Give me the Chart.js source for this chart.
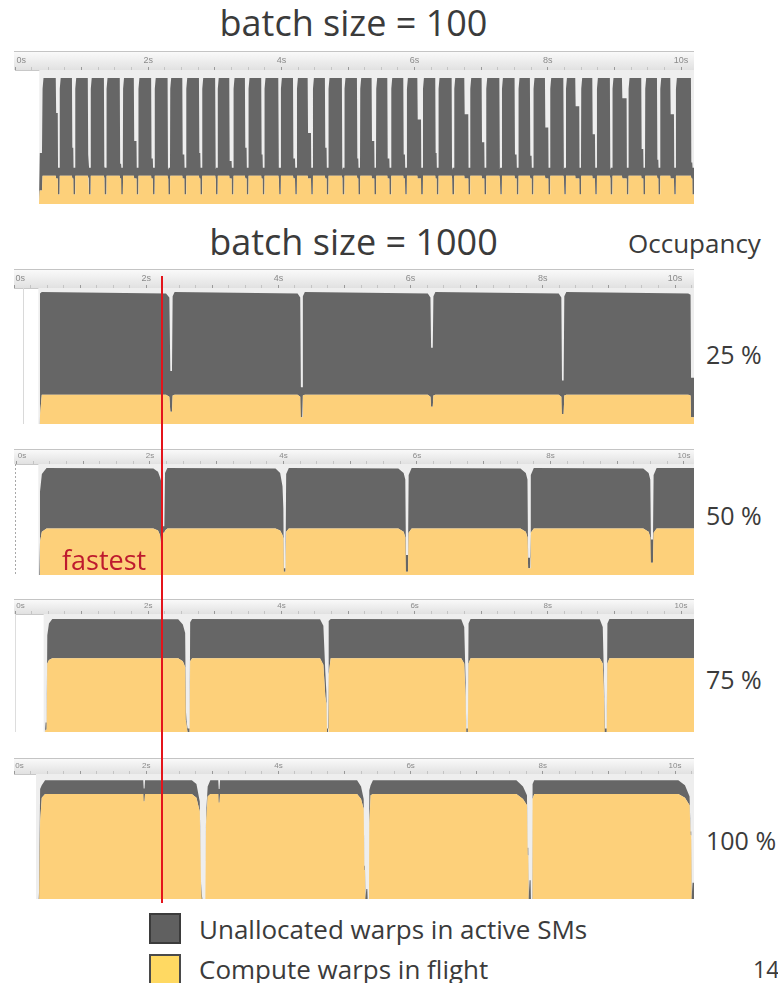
<!DOCTYPE html>
<html lang="en">
<head>
<meta charset="utf-8">
<title>Warp occupancy timelines</title>
<script src="https://cdn.jsdelivr.net/npm/chart.js@4.4.1/dist/chart.umd.min.js"></script>
<style>
  html, body { margin: 0; padding: 0; background: #ffffff; }
  body { position: relative; width: 778px; height: 983px; overflow: hidden;
         font-family: "Open Sans", "Liberation Sans", sans-serif; color: #3b3b3b; }
  .txt { position: absolute; white-space: nowrap; line-height: 1; }
  .title { left: 0; width: 707px; text-align: center; font-size: 36px; }
  .occ { left: 706px; font-size: 25px; }
  canvas { position: absolute; left: 14px; }
  .marker { position: absolute; left: 161px; top: 276px; width: 2px; height: 627px; background: #e4141b; z-index: 5; }
  .fastest { left: 62px; top: 546px; font-size: 27px; color: #be1a2e; z-index: 6; }
  .key { position: absolute; left: 149px; width: 32px; height: 31px; box-sizing: border-box; border: 2px solid #3b3b3b; }
  .keytxt { left: 199px; font-size: 26px; }
</style>
</head>
<body>
<div class="txt title" style="top:5px">batch size = 100</div>
<div class="txt title" style="top:224px">batch size = 1000</div>
<div class="txt" style="left:628px;top:230px;font-size:26px">Occupancy</div>

<canvas id="tl100" width="680" height="153" style="top:51px"></canvas>
<canvas id="tl25" width="680" height="155" style="top:269px"></canvas>
<canvas id="tl50" width="680" height="126" style="top:449px"></canvas>
<canvas id="tl75" width="680" height="133" style="top:599px"></canvas>
<canvas id="tl100pct" width="680" height="141" style="top:758px"></canvas>

<div class="txt occ" style="top:342px">25 %</div>
<div class="txt occ" style="top:503px">50 %</div>
<div class="txt occ" style="top:667px">75 %</div>
<div class="txt occ" style="top:828px">100 %</div>

<div class="marker"></div>
<div class="txt fastest">fastest</div>

<div class="key" style="top:913px;background:#606060"></div>
<div class="txt keytxt" style="top:916px">Unallocated warps in active SMs</div>
<div class="key" style="top:954px;background:#ffd962;border-color:#4a4a4a"></div>
<div class="txt keytxt" style="top:956px">Compute warps in flight</div>
<div class="txt" style="left:753px;top:958px;font-size:23px">14</div>

<script>
// ---------------------------------------------------------------
// batch size = 100 : one short bar per batch (times in seconds,
// warp values in % of the available warp slots)
// ---------------------------------------------------------------
const b100Bounds = [0.410, 0.668, 0.901, 1.134, 1.371, 1.619, 1.850, 2.095, 2.327, 2.568,
  2.808, 3.041, 3.278, 3.503, 3.743, 3.989, 4.230, 4.470, 4.704, 4.944,
  5.180, 5.420, 5.646, 5.881, 6.122, 6.356, 6.592, 6.832, 7.072, 7.308,
  7.557, 7.782, 8.033, 8.269, 8.498, 8.734, 8.968, 9.209, 9.459, 9.685,
  9.920, 10.195];
// occupied level (%) each batch falls to just before it ends
const b100TailLevel = [68, 42, 37, 28, 30, 47, 34, 26, 37, 38,
  26, 32, 42, 37, 27, 34, 53, 42, 26, 34,
  47, 34, 37, 63, 38, 26, 67, 46, 26, 37,
  36, 57, 26, 73, 52, 26, 79, 41, 33, 67, 31];
// how long (s) that tail lasts
const b100TailLength = [0.05, 0.04, 0.035, 0.03, 0.04, 0.06, 0.045, 0.03, 0.05, 0.04,
  0.03, 0.055, 0.045, 0.04, 0.03, 0.05, 0.07, 0.045, 0.03, 0.04,
  0.06, 0.05, 0.045, 0.075, 0.04, 0.03, 0.08, 0.06, 0.03, 0.05,
  0.045, 0.07, 0.03, 0.08, 0.06, 0.03, 0.09, 0.05, 0.04, 0.075, 0.04];
const b100LeadTime = [0.360, 0.372, 0.405];
const b100LeadCompute = [0, 10, 10];
const b100LeadUnalloc = [0, 28, 28];
const b100Levels = [94, 21, 19, 27, 7]; // occupied, compute, compute in tail, occupied at switch, compute at switch

// ---------------------------------------------------------------
// batch size = 1000, occupancy 25 %
// ---------------------------------------------------------------
const occ25Time = [0.388, 0.393, 0.42, 2.30, 2.35, 2.365, 2.39, 2.40, 2.43, 4.29, 4.33, 4.34, 4.36, 4.37, 4.40,
  6.26, 6.30, 6.31, 6.335, 6.345, 6.375, 8.24, 8.28, 8.29, 8.315, 8.325, 8.355, 10.20, 10.235, 10.242, 10.287];
const occ25Compute = [0, 6, 21.5, 21.5, 20, 9, 9, 21, 21.5, 21.5, 20, 5, 5, 21, 21.5,
  21.5, 20, 12.6, 12.6, 21, 21.5, 21.5, 20, 7.4, 7.4, 21, 21.5, 21.5, 21, 5, 5];
const occ25Unalloc = [0, 90, 75.5, 74.5, 73, 30, 30, 73, 75.5, 74.5, 73, 22, 22, 73, 75.5,
  74.5, 73, 43.4, 43.4, 73, 75.5, 74.5, 73, 24.6, 24.6, 73, 75.5, 74.5, 74, 29, 29];

// occupancy 50 %
const occ50Time = [0.340, 0.352, 0.38, 0.45, 2.05, 2.12, 2.15, 2.165, 2.18, 2.19, 2.215, 2.225, 2.26,
  3.88, 3.95, 3.985, 3.998, 4.005, 4.03, 4.04, 4.08, 5.72, 5.80, 5.825, 5.835, 5.865, 5.875, 5.92,
  7.55, 7.63, 7.655, 7.665, 7.695, 7.705, 7.75, 9.39, 9.47, 9.495, 9.505, 9.535, 9.545, 9.59, 10.15];
const occ50Compute = [0, 30, 39, 41.8, 41.8, 40, 36, 27, 27, 38, 38, 40, 41.8,
  41.8, 40, 36, 33, 3, 3, 39, 41.8, 41.8, 39, 34, 3, 3, 38, 41.8,
  41.8, 39, 34, 6, 6, 38, 41.8, 41.8, 39, 34, 11, 11, 38, 41.8, 41.8];
const occ50Unalloc = [0, 45, 52, 54.6, 54.2, 53, 52, 58, 53, 6, 6, 52, 54.6,
  54.2, 52, 44, 27, 3, 3, 52, 54.6, 54.2, 53, 52, 15, 15, 52, 54.6,
  54.2, 53, 52, 9.5, 9.5, 52, 54.6, 54.2, 53, 52, 21, 21, 52, 54.6, 54.6];

// occupancy 75 %
const occ75Time = [0.45, 0.46, 0.475, 0.485, 0.51, 0.56, 2.45, 2.52, 2.555, 2.565, 2.575, 2.59, 2.622, 2.63, 2.66,
  4.58, 4.63, 4.66, 4.675, 4.685, 4.70, 4.71, 4.74, 6.70, 6.745, 6.765, 6.775, 6.80, 6.81, 6.84,
  8.78, 8.825, 8.845, 8.855, 8.885, 8.895, 8.925, 10.195];
const occ75Compute = [0, 2, 2, 58, 61, 62.4, 62.4, 60, 55, 10, 6, 0, 0, 60, 62.4,
  62.4, 57, 30, 24, 0, 0, 49, 62.4, 62.4, 58, 30, 0, 0, 58, 62.4,
  62.4, 58, 28, 0, 0, 58, 62.4, 62.4];
const occ75Unalloc = [0, 6, 6, 24, 31, 33.3, 33.1, 31, 29, 9, 4, 3, 3, 33, 33.3,
  33.1, 33, 20, 10, 3, 3, 45, 33.3, 33.1, 31, 15, 3, 3, 34, 33.3,
  33.1, 31, 12, 3, 3, 34, 33.3, 33.3];

// occupancy 100 %
const occ100Time = [0.37, 0.38, 0.39, 0.395, 0.42, 0.47, 1.955, 1.962, 1.975, 1.982,
  2.69, 2.76, 2.81, 2.82, 2.83, 2.84, 2.85, 2.895, 2.905, 2.93, 2.97, 3.09, 3.097, 3.11, 3.117,
  5.19, 5.25, 5.29, 5.30, 5.31, 5.315, 5.33, 5.345, 5.35, 5.37, 5.375, 5.395, 5.43,
  7.60, 7.70, 7.76, 7.77, 7.78, 7.785, 7.80, 7.815, 7.82, 7.84, 7.845, 7.87,
  10.05, 10.15, 10.22, 10.235, 10.245, 10.25, 10.265, 10.287];
const occ100Compute = [0, 0, 0, 62, 81, 84, 84, 78, 78, 84,
  84, 81, 70, 39, 8, 0, 0, 0, 60, 82, 84, 84, 77, 77, 84,
  84, 80, 72, 23, 23, 0, 0, 0, 0, 0, 60, 83, 84,
  84, 80, 75, 35, 35, 0, 0, 0, 0, 0, 80, 84,
  84, 81, 75, 51, 51, 0, 0, 0];
const occ100Unalloc = [0, 6, 6, 26, 10, 11, 11, 10.5, 10.5, 11,
  11, 11, 8, 6, 4, 4, 0, 0, 7, 8, 11, 11, 11, 11, 11,
  11, 10, 8, 4, 3, 0, 8, 8, 0, 0, 27, 8, 11,
  11, 10, 8, 6, 6, 0, 15, 15, 0, 0, 12, 11,
  11, 10, 7, 3, 3, 0, 13, 13];

const COMPUTE_COLOR = '#fdd07a';
const UNALLOC_COLOR = '#666666';

// Expand the per-batch readings of the batch-100 run into a point table.
function buildBatch100() {
  const t = b100LeadTime.slice(), c = b100LeadCompute.slice(), u = b100LeadUnalloc.slice();
  const [top, comp, tailComp, switchTotal, switchComp] = b100Levels;
  const add = (x, compute, occupied) => { t.push(+x.toFixed(4)); c.push(compute); u.push(occupied - compute); };
  for (let i = 0; i < b100TailLevel.length; i++) {
    const s = b100Bounds[i], e = b100Bounds[i + 1], tail = e - b100TailLength[i];
    add(s + 0.004, comp, top - 8);
    add(s + 0.018, comp, top);
    add(tail - 0.006, comp, top);
    add(tail, tailComp, b100TailLevel[i]);
    add(e - 0.026, tailComp, b100TailLevel[i]);
    add(e - 0.022, switchComp, switchTotal);
    add(e, switchComp, switchTotal);
  }
  return { t, c, u };
}

// Header strip with the time ruler, and the light row behind the data.
const timelineFrame = {
  id: 'timelineFrame',
  beforeDraw(chart) {
    const { ctx, chartArea, width } = chart;
    const g = ctx.createLinearGradient(0, 0, 0, chartArea.top);
    g.addColorStop(0, '#fbfbfb');
    g.addColorStop(1, '#e1e1e1');
    ctx.save();
    ctx.fillStyle = g;
    ctx.fillRect(0, 0, width, chartArea.top);
    ctx.fillStyle = '#c4c4c4';
    ctx.fillRect(0, 0, width, 1);
    ctx.restore();
  },
  beforeDatasetsDraw(chart, _args, opts) {
    const { ctx, chartArea, scales } = chart;
    const x0 = scales.x.getPixelForValue(opts.rowStart);
    ctx.save();
    ctx.fillStyle = '#eeeeee';
    ctx.fillRect(x0, chartArea.top, chartArea.right - x0, chartArea.bottom - chartArea.top);
    if (opts.edgeAt !== undefined) {
      const ex = Math.round(scales.x.getPixelForValue(opts.edgeAt)) + 0.5;
      ctx.strokeStyle = opts.edgeColor;
      ctx.lineWidth = 1;
      ctx.setLineDash(opts.edgeDash || []);
      ctx.beginPath();
      ctx.moveTo(ex, chartArea.top);
      ctx.lineTo(ex, chartArea.bottom);
      ctx.stroke();
    }
    ctx.restore();
  }
};

const secondsLabel = (v) => {
  const r = Math.round(v);
  if (Math.abs(v - r) > 1e-6 || r % 2 !== 0) return '';
  return r === 0 ? '\u00a0\u00a0\u00a0\u00a0\u00a00s' : r + 's';
};

function timeline(id, time, compute, unalloc, cfg) {
  const pts = (vals) => time.map((x, i) => ({ x, y: vals[i] }));
  const area = { borderWidth: 0, borderColor: 'rgba(0,0,0,0)', pointRadius: 0, pointHoverRadius: 0, tension: 0 };
  return new Chart(document.getElementById(id), {
    type: 'line',
    data: {
      datasets: [
        { label: 'Compute warps in flight', data: pts(compute), backgroundColor: COMPUTE_COLOR, fill: 'origin', ...area },
        { label: 'Unallocated warps in active SMs', data: pts(unalloc), backgroundColor: UNALLOC_COLOR, fill: '-1', ...area }
      ]
    },
    options: {
      responsive: false,
      animation: false,
      devicePixelRatio: 1,
      events: [],
      layout: { padding: { left: cfg.padLeft, right: 0, top: 0, bottom: 0 } },
      plugins: {
        legend: { display: false },
        tooltip: { enabled: false },
        timelineFrame: { rowStart: cfg.rowStart, edgeAt: cfg.edgeAt, edgeColor: cfg.edgeColor, edgeDash: cfg.edgeDash }
      },
      scales: {
        x: {
          type: 'linear',
          position: 'top',
          min: 0,
          max: cfg.max,
          grid: {
            display: true, drawOnChartArea: false, drawTicks: true, tickLength: 3,
            tickColor: (c) => (c.tick && Number.isInteger(c.tick.value) ? '#999999' : '#c4c4c4')
          },
          border: { display: true, color: '#c8c8c8' },
          ticks: {
            stepSize: 0.25, autoSkip: false, includeBounds: false, maxRotation: 0, minRotation: 0,
            padding: cfg.labelPad, color: '#8a8a8a',
            font: { family: 'Liberation Sans', size: cfg.fontSize },
            callback: secondsLabel
          },
          afterFit: (s) => { s.height = cfg.header; s.paddingLeft = 0; s.paddingRight = 0; }
        },
        y: { display: false, stacked: true, min: 0, max: 100 }
      }
    },
    plugins: [timelineFrame]
  });
}

const b100 = buildBatch100();
timeline('tl100', b100.t, b100.c, b100.u,
  { padLeft: 1, max: 10.195, header: 19, fontSize: 9, labelPad: 1, rowStart: 0.365 });
timeline('tl25', occ25Time, occ25Compute, occ25Unalloc,
  { padLeft: 0, max: 10.287, header: 19, fontSize: 9, labelPad: 1, rowStart: 0.368,
    edgeAt: 0.13, edgeColor: '#d9d9d9' });
timeline('tl50', occ50Time, occ50Compute, occ50Unalloc,
  { padLeft: 2.5, max: 10.15, header: 15, fontSize: 8, labelPad: 0, rowStart: 0.327,
    edgeAt: -0.022, edgeColor: '#a8a8a8', edgeDash: [2, 2] });
timeline('tl75', occ75Time, occ75Compute, occ75Unalloc,
  { padLeft: 1, max: 10.195, header: 15, fontSize: 8, labelPad: 0, rowStart: 0.43,
    edgeAt: 0, edgeColor: '#dddddd' });
timeline('tl100pct', occ100Time, occ100Compute, occ100Unalloc,
  { padLeft: 0, max: 10.287, header: 16, fontSize: 8, labelPad: 0, rowStart: 0.333 });
</script>
</body>
</html>
